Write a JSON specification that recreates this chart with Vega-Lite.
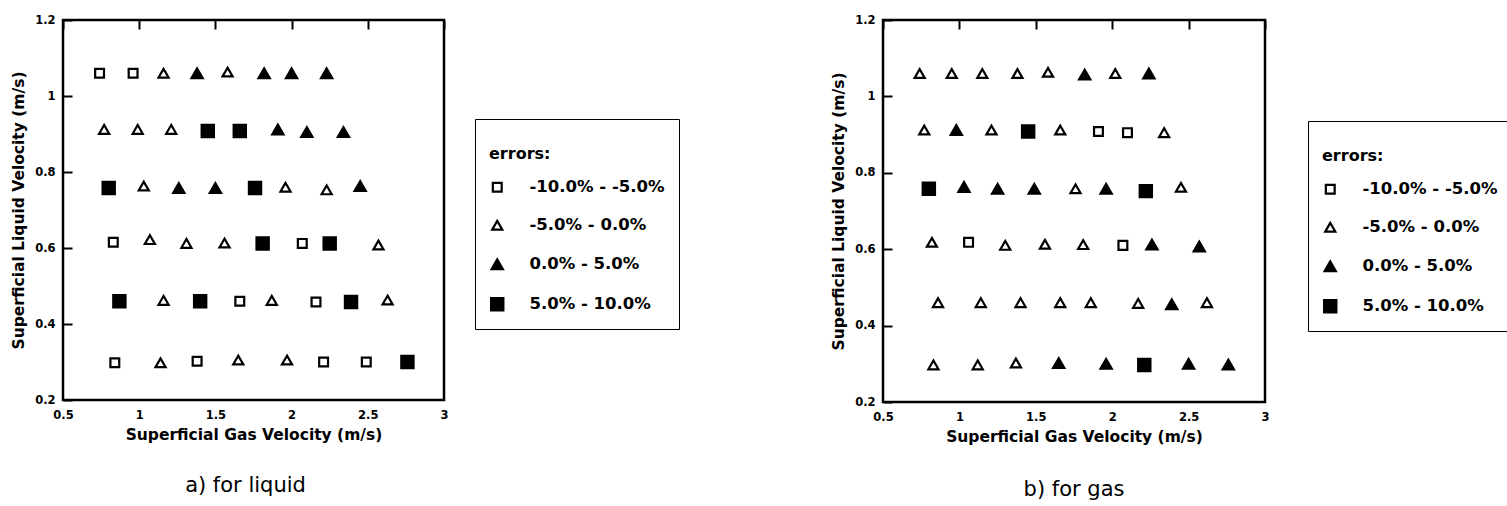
{
  "$schema": "https://vega.github.io/schema/vega-lite/v6.json",
  "padding": {"left": 10, "top": 12, "right": 0, "bottom": 0},
  "spacing": 149,
  "background": "white",
  "config": {
    "view": {"stroke": "black", "strokeWidth": 2.5},
    "axis": {
      "domain": false, "ticks": false, "grid": true, "gridColor": "black", "gridOpacity": 1, "gridWidth": 2,
      "labelFont": "DejaVu Sans", "labelFontWeight": "bold", "labelFontSize": 11.5, "labelColor": "black",
      "titleFont": "DejaVu Sans", "titleFontWeight": "bold", "titleFontSize": 15.5, "titleColor": "black",
      "labelOverlap": false, "labelFlush": false
    },
    "legend": {
      "titleFont": "DejaVu Sans", "titleFontWeight": "bold", "titleFontSize": 16, "titleColor": "black",
      "labelFont": "DejaVu Sans", "labelFontWeight": "bold", "labelFontSize": 16.5, "labelColor": "black",
      "strokeColor": "black", "fillColor": "white", "padding": 14, "titlePadding": 17, "rowPadding": 19,
      "labelOffset": 24, "titleLineHeight": 13, "symbolStrokeColor": "black", "symbolStrokeWidth": 2.2
    }
  },
  "datasets": {
    "liquid": [
      {"ug": 0.74, "ul": 1.06, "err": "-10.0% - -5.0%"},
      {"ug": 0.96, "ul": 1.06, "err": "-10.0% - -5.0%"},
      {"ug": 1.16, "ul": 1.06, "err": "-5.0% - 0.0%"},
      {"ug": 1.38, "ul": 1.06, "err": "0.0% - 5.0%"},
      {"ug": 1.58, "ul": 1.063, "err": "-5.0% - 0.0%"},
      {"ug": 1.82, "ul": 1.06, "err": "0.0% - 5.0%"},
      {"ug": 2.0, "ul": 1.06, "err": "0.0% - 5.0%"},
      {"ug": 2.23, "ul": 1.06, "err": "0.0% - 5.0%"},
      {"ug": 0.77, "ul": 0.912, "err": "-5.0% - 0.0%"},
      {"ug": 0.99, "ul": 0.912, "err": "-5.0% - 0.0%"},
      {"ug": 1.21, "ul": 0.912, "err": "-5.0% - 0.0%"},
      {"ug": 1.45, "ul": 0.908, "err": "5.0% - 10.0%"},
      {"ug": 1.66, "ul": 0.908, "err": "5.0% - 10.0%"},
      {"ug": 1.91, "ul": 0.912, "err": "0.0% - 5.0%"},
      {"ug": 2.1, "ul": 0.905, "err": "0.0% - 5.0%"},
      {"ug": 2.34, "ul": 0.905, "err": "0.0% - 5.0%"},
      {"ug": 0.8, "ul": 0.758, "err": "5.0% - 10.0%"},
      {"ug": 1.03, "ul": 0.763, "err": "-5.0% - 0.0%"},
      {"ug": 1.26, "ul": 0.758, "err": "0.0% - 5.0%"},
      {"ug": 1.5, "ul": 0.758, "err": "0.0% - 5.0%"},
      {"ug": 1.76, "ul": 0.758, "err": "5.0% - 10.0%"},
      {"ug": 1.96, "ul": 0.76, "err": "-5.0% - 0.0%"},
      {"ug": 2.23, "ul": 0.753, "err": "-5.0% - 0.0%"},
      {"ug": 2.45, "ul": 0.763, "err": "0.0% - 5.0%"},
      {"ug": 0.83, "ul": 0.615, "err": "-10.0% - -5.0%"},
      {"ug": 1.07, "ul": 0.622, "err": "-5.0% - 0.0%"},
      {"ug": 1.31, "ul": 0.612, "err": "-5.0% - 0.0%"},
      {"ug": 1.56, "ul": 0.613, "err": "-5.0% - 0.0%"},
      {"ug": 1.81, "ul": 0.612, "err": "5.0% - 10.0%"},
      {"ug": 2.07, "ul": 0.612, "err": "-10.0% - -5.0%"},
      {"ug": 2.25, "ul": 0.612, "err": "5.0% - 10.0%"},
      {"ug": 2.57, "ul": 0.608, "err": "-5.0% - 0.0%"},
      {"ug": 0.87, "ul": 0.46, "err": "5.0% - 10.0%"},
      {"ug": 1.16, "ul": 0.462, "err": "-5.0% - 0.0%"},
      {"ug": 1.4, "ul": 0.46, "err": "5.0% - 10.0%"},
      {"ug": 1.66, "ul": 0.46, "err": "-10.0% - -5.0%"},
      {"ug": 1.87, "ul": 0.462, "err": "-5.0% - 0.0%"},
      {"ug": 2.16, "ul": 0.458, "err": "-10.0% - -5.0%"},
      {"ug": 2.39, "ul": 0.458, "err": "5.0% - 10.0%"},
      {"ug": 2.63, "ul": 0.463, "err": "-5.0% - 0.0%"},
      {"ug": 0.84, "ul": 0.298, "err": "-10.0% - -5.0%"},
      {"ug": 1.14, "ul": 0.298, "err": "-5.0% - 0.0%"},
      {"ug": 1.38, "ul": 0.302, "err": "-10.0% - -5.0%"},
      {"ug": 1.65, "ul": 0.305, "err": "-5.0% - 0.0%"},
      {"ug": 1.97, "ul": 0.305, "err": "-5.0% - 0.0%"},
      {"ug": 2.21, "ul": 0.3, "err": "-10.0% - -5.0%"},
      {"ug": 2.49, "ul": 0.3, "err": "-10.0% - -5.0%"},
      {"ug": 2.76, "ul": 0.3, "err": "5.0% - 10.0%"}
    ],
    "gas": [
      {"ug": 0.74, "ul": 1.06, "err": "-5.0% - 0.0%"},
      {"ug": 0.95, "ul": 1.06, "err": "-5.0% - 0.0%"},
      {"ug": 1.15, "ul": 1.06, "err": "-5.0% - 0.0%"},
      {"ug": 1.38, "ul": 1.06, "err": "-5.0% - 0.0%"},
      {"ug": 1.58, "ul": 1.063, "err": "-5.0% - 0.0%"},
      {"ug": 1.82, "ul": 1.057, "err": "0.0% - 5.0%"},
      {"ug": 2.02, "ul": 1.06, "err": "-5.0% - 0.0%"},
      {"ug": 2.24, "ul": 1.06, "err": "0.0% - 5.0%"},
      {"ug": 0.77, "ul": 0.912, "err": "-5.0% - 0.0%"},
      {"ug": 0.98, "ul": 0.912, "err": "0.0% - 5.0%"},
      {"ug": 1.21, "ul": 0.912, "err": "-5.0% - 0.0%"},
      {"ug": 1.45, "ul": 0.908, "err": "5.0% - 10.0%"},
      {"ug": 1.66, "ul": 0.912, "err": "-5.0% - 0.0%"},
      {"ug": 1.91, "ul": 0.908, "err": "-10.0% - -5.0%"},
      {"ug": 2.1, "ul": 0.905, "err": "-10.0% - -5.0%"},
      {"ug": 2.34, "ul": 0.905, "err": "-5.0% - 0.0%"},
      {"ug": 0.8, "ul": 0.758, "err": "5.0% - 10.0%"},
      {"ug": 1.03, "ul": 0.763, "err": "0.0% - 5.0%"},
      {"ug": 1.25, "ul": 0.758, "err": "0.0% - 5.0%"},
      {"ug": 1.49, "ul": 0.758, "err": "0.0% - 5.0%"},
      {"ug": 1.76, "ul": 0.758, "err": "-5.0% - 0.0%"},
      {"ug": 1.96, "ul": 0.758, "err": "0.0% - 5.0%"},
      {"ug": 2.22, "ul": 0.752, "err": "5.0% - 10.0%"},
      {"ug": 2.45, "ul": 0.762, "err": "-5.0% - 0.0%"},
      {"ug": 0.82, "ul": 0.618, "err": "-5.0% - 0.0%"},
      {"ug": 1.06, "ul": 0.618, "err": "-10.0% - -5.0%"},
      {"ug": 1.3, "ul": 0.61, "err": "-5.0% - 0.0%"},
      {"ug": 1.56, "ul": 0.613, "err": "-5.0% - 0.0%"},
      {"ug": 1.81, "ul": 0.612, "err": "-5.0% - 0.0%"},
      {"ug": 2.07, "ul": 0.61, "err": "-10.0% - -5.0%"},
      {"ug": 2.26, "ul": 0.612, "err": "0.0% - 5.0%"},
      {"ug": 2.57, "ul": 0.607, "err": "0.0% - 5.0%"},
      {"ug": 0.86, "ul": 0.46, "err": "-5.0% - 0.0%"},
      {"ug": 1.14, "ul": 0.46, "err": "-5.0% - 0.0%"},
      {"ug": 1.4, "ul": 0.46, "err": "-5.0% - 0.0%"},
      {"ug": 1.66, "ul": 0.46, "err": "-5.0% - 0.0%"},
      {"ug": 1.86, "ul": 0.46, "err": "-5.0% - 0.0%"},
      {"ug": 2.17, "ul": 0.458, "err": "-5.0% - 0.0%"},
      {"ug": 2.39, "ul": 0.456, "err": "0.0% - 5.0%"},
      {"ug": 2.62, "ul": 0.46, "err": "-5.0% - 0.0%"},
      {"ug": 0.83, "ul": 0.297, "err": "-5.0% - 0.0%"},
      {"ug": 1.12, "ul": 0.297, "err": "-5.0% - 0.0%"},
      {"ug": 1.37, "ul": 0.302, "err": "-5.0% - 0.0%"},
      {"ug": 1.65, "ul": 0.302, "err": "0.0% - 5.0%"},
      {"ug": 1.96, "ul": 0.3, "err": "0.0% - 5.0%"},
      {"ug": 2.21, "ul": 0.297, "err": "5.0% - 10.0%"},
      {"ug": 2.5, "ul": 0.3, "err": "0.0% - 5.0%"},
      {"ug": 2.76, "ul": 0.298, "err": "0.0% - 5.0%"}
    ]
  },
  "resolve": {
    "scale": {"x": "independent", "y": "independent", "shape": "independent", "fill": "independent", "size": "independent", "stroke": "independent"},
    "legend": {"shape": "independent", "fill": "independent", "size": "independent", "stroke": "independent"}
  },
  "hconcat": [
    {
      "width": 381, "height": 380,
      "data": {"name": "liquid"},
      "title": {"text": "a) for liquid", "orient": "bottom", "anchor": "middle", "frame": "group", "font": "DejaVu Sans", "fontSize": 21, "fontWeight": "normal", "color": "black", "offset": 32, "dx": -8},
      "resolve": {"axis": {"x": "independent", "y": "independent"}},
      "layer": [
        {
          "mark": {"type": "point", "filled": true, "strokeWidth": 2.2, "opacity": 1},
          "encoding": {
            "x": {"field": "ug", "type": "quantitative", "title": "Superficial Gas Velocity (m/s)",
              "scale": {"domain": [0.5, 3], "nice": false, "zero": false},
              "axis": {"orient": "bottom", "values": [0.5, 1, 1.5, 2, 2.5, 3], "labelExpr": "'' + datum.value",
                "gridDash": [9, 1000], "labelPadding": 9, "titlePadding": 7}},
            "y": {"field": "ul", "type": "quantitative", "title": "Superficial Liquid Velocity (m/s)",
              "scale": {"domain": [0.2, 1.2], "nice": false, "zero": false},
              "axis": {"orient": "left", "values": [0.2, 0.4, 0.6, 0.8, 1, 1.2], "labelExpr": "'' + datum.value",
                "gridDash": [9, 1000], "labelPadding": 8, "titlePadding": 8}},
            "shape": {"field": "err", "type": "nominal", "title": ["", "errors:"],
              "scale": {"domain": ["-10.0% - -5.0%", "-5.0% - 0.0%", "0.0% - 5.0%", "5.0% - 10.0%"], "range": ["square", "triangle-up", "triangle-up", "square"]},
              "legend": {"orient": "none", "legendX": 412, "legendY": 99}},
            "fill": {"field": "err", "type": "nominal", "title": ["", "errors:"],
              "scale": {"domain": ["-10.0% - -5.0%", "-5.0% - 0.0%", "0.0% - 5.0%", "5.0% - 10.0%"], "range": ["white", "white", "black", "black"]},
              "legend": {"orient": "none", "legendX": 412, "legendY": 99}},
            "stroke": {"field": "err", "type": "nominal", "title": ["", "errors:"],
              "scale": {"domain": ["-10.0% - -5.0%", "-5.0% - 0.0%", "0.0% - 5.0%", "5.0% - 10.0%"], "range": ["black", "black", "black", "black"]},
              "legend": {"orient": "none", "legendX": 412, "legendY": 99}},
            "size": {"field": "err", "type": "nominal", "title": ["", "errors:"],
              "scale": {"domain": ["-10.0% - -5.0%", "-5.0% - 0.0%", "0.0% - 5.0%", "5.0% - 10.0%"], "range": [78, 150, 150, 78]},
              "legend": {"orient": "none", "legendX": 412, "legendY": 99}}
          }
        },
        {
          "mark": {"type": "point", "opacity": 0},
          "encoding": {
            "x": {"field": "ug", "type": "quantitative",
              "axis": {"orient": "bottom", "values": [0.75, 1.25, 1.75, 2.25, 2.75], "labels": false, "title": null, "gridDash": [4, 1000]}},
            "y": {"field": "ul", "type": "quantitative",
              "axis": {"orient": "left", "values": [0.3, 0.5, 0.7, 0.9, 1.1], "labels": false, "title": null, "gridDash": [4, 1000]}}
          }
        }
      ]
    },
    {
      "width": 382, "height": 382,
      "data": {"name": "gas"},
      "title": {"text": "b) for gas", "orient": "bottom", "anchor": "middle", "frame": "group", "font": "DejaVu Sans", "fontSize": 21, "fontWeight": "normal", "color": "black", "offset": 34},
      "resolve": {"axis": {"x": "independent", "y": "independent"}},
      "layer": [
        {
          "mark": {"type": "point", "filled": true, "strokeWidth": 2.2, "opacity": 1},
          "encoding": {
            "x": {"field": "ug", "type": "quantitative", "title": "Superficial Gas Velocity (m/s)",
              "scale": {"domain": [0.5, 3], "nice": false, "zero": false},
              "axis": {"orient": "bottom", "values": [0.5, 1, 1.5, 2, 2.5, 3], "labelExpr": "'' + datum.value",
                "gridDash": [9, 1000], "labelPadding": 9, "titlePadding": 7}},
            "y": {"field": "ul", "type": "quantitative", "title": "Superficial Liquid Velocity (m/s)",
              "scale": {"domain": [0.2, 1.2], "nice": false, "zero": false},
              "axis": {"orient": "left", "values": [0.2, 0.4, 0.6, 0.8, 1, 1.2], "labelExpr": "'' + datum.value",
                "gridDash": [9, 1000], "labelPadding": 8, "titlePadding": 8}},
            "shape": {"field": "err", "type": "nominal", "title": ["", "errors:"],
              "scale": {"domain": ["-10.0% - -5.0%", "-5.0% - 0.0%", "0.0% - 5.0%", "5.0% - 10.0%"], "range": ["square", "triangle-up", "triangle-up", "square"]},
              "legend": {"orient": "none", "legendX": 425, "legendY": 101}},
            "fill": {"field": "err", "type": "nominal", "title": ["", "errors:"],
              "scale": {"domain": ["-10.0% - -5.0%", "-5.0% - 0.0%", "0.0% - 5.0%", "5.0% - 10.0%"], "range": ["white", "white", "black", "black"]},
              "legend": {"orient": "none", "legendX": 425, "legendY": 101}},
            "stroke": {"field": "err", "type": "nominal", "title": ["", "errors:"],
              "scale": {"domain": ["-10.0% - -5.0%", "-5.0% - 0.0%", "0.0% - 5.0%", "5.0% - 10.0%"], "range": ["black", "black", "black", "black"]},
              "legend": {"orient": "none", "legendX": 425, "legendY": 101}},
            "size": {"field": "err", "type": "nominal", "title": ["", "errors:"],
              "scale": {"domain": ["-10.0% - -5.0%", "-5.0% - 0.0%", "0.0% - 5.0%", "5.0% - 10.0%"], "range": [78, 150, 150, 78]},
              "legend": {"orient": "none", "legendX": 425, "legendY": 101}}
          }
        },
        {
          "mark": {"type": "point", "opacity": 0},
          "encoding": {
            "x": {"field": "ug", "type": "quantitative",
              "axis": {"orient": "bottom", "values": [0.75, 1.25, 1.75, 2.25, 2.75], "labels": false, "title": null, "gridDash": [4, 1000]}},
            "y": {"field": "ul", "type": "quantitative",
              "axis": {"orient": "left", "values": [0.3, 0.5, 0.7, 0.9, 1.1], "labels": false, "title": null, "gridDash": [4, 1000]}}
          }
        }
      ]
    }
  ]
}
